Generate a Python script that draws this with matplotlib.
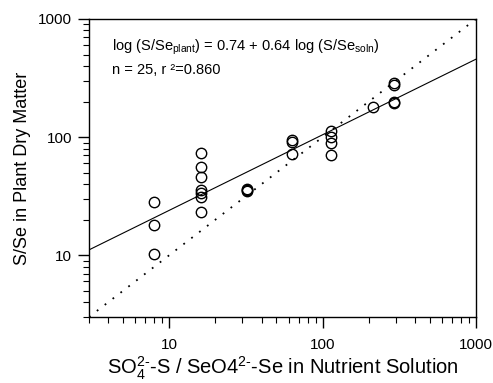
import numpy as np
import matplotlib
matplotlib.use("Agg")
import matplotlib.pyplot as plt
from matplotlib.ticker import LogLocator, NullFormatter, FixedLocator, FixedFormatter

plt.rcParams['font.family'] = ['Liberation Sans', 'DejaVu Sans']
plt.rcParams['mathtext.fontset'] = 'custom'
plt.rcParams['mathtext.rm'] = 'Liberation Sans'
plt.rcParams['mathtext.it'] = 'Liberation Sans:italic'

# S/Se ratio in nutrient solution vs plant dry matter
soln_ratio = [8, 8, 8,
              16, 16, 16, 16, 16, 16, 16,
              32, 32, 32,
              63, 63, 63,
              114, 114, 114, 114,
              212,
              292, 292, 292, 292]
plant_ratio = [28, 17.9, 10.2,
               73.5, 56, 46, 35.6, 33.5, 31.2, 23.3,
               35, 36, 36.5,
               95, 91, 71.5,
               112, 100, 89, 70.5,
               181,
               290, 278, 200, 195]

intercept = 0.74
slope = 0.64
r2 = 0.860

fig = plt.figure(figsize=(4.93, 3.83), dpi=100)
ax = fig.add_axes([89 / 493, 1 - 317 / 383, 387 / 493, 298 / 383])

x_line = np.array([3, 1000])
ax.plot(x_line, x_line, color='black', linestyle=(0, (1, 4.5)), linewidth=1.3)
ax.plot(x_line, 10 ** (intercept + slope * np.log10(x_line)), color='black', linewidth=0.8)
ax.plot(soln_ratio, plant_ratio, 'o', mfc='none', mec='black', ms=7.5, mew=1.0)

ax.set_xscale('log')
ax.set_yscale('log')
ax.set_xlim(3, 1000)
ax.set_ylim(3, 1000)

for axis in (ax.xaxis, ax.yaxis):
    axis.set_major_locator(FixedLocator([10, 100, 1000]))
    axis.set_major_formatter(FixedFormatter(['10', '100', '1000']))
    axis.set_minor_locator(LogLocator(base=10, subs=np.arange(2, 10)))
    axis.set_minor_formatter(NullFormatter())

ax.tick_params(which='major', direction='out', length=8, width=1, labelsize=11)
ax.tick_params(axis='x', which='major', pad=7)
ax.tick_params(axis='y', which='major', pad=4)
ax.tick_params(which='minor', direction='out', length=4, width=0.8)
ax.tick_params(top=False, right=False)
for s in ax.spines.values():
    s.set_linewidth(1.0)

ax.set_xlabel(r'SO$_4^{2\text{-}}$-S / SeO4$^{2\text{-}}$-Se in Nutrient Solution', fontsize=14.5, labelpad=2)
ax.set_ylabel('S/Se in Plant Dry Matter', fontsize=13, labelpad=5)

ax.text(0.06, 0.905, r'log (S/Se$_{\mathregular{plant}}$) = %.2f + %.2f log (S/Se$_{\mathregular{soln}}$)' % (intercept, slope),
        transform=ax.transAxes, fontsize=10.5, va='center')
ax.text(0.06, 0.83, 'n = %d, r \u00b2=%.3f' % (len(plant_ratio), r2),
        transform=ax.transAxes, fontsize=10.5, va='center')

fig.savefig('out.png', dpi=100)
